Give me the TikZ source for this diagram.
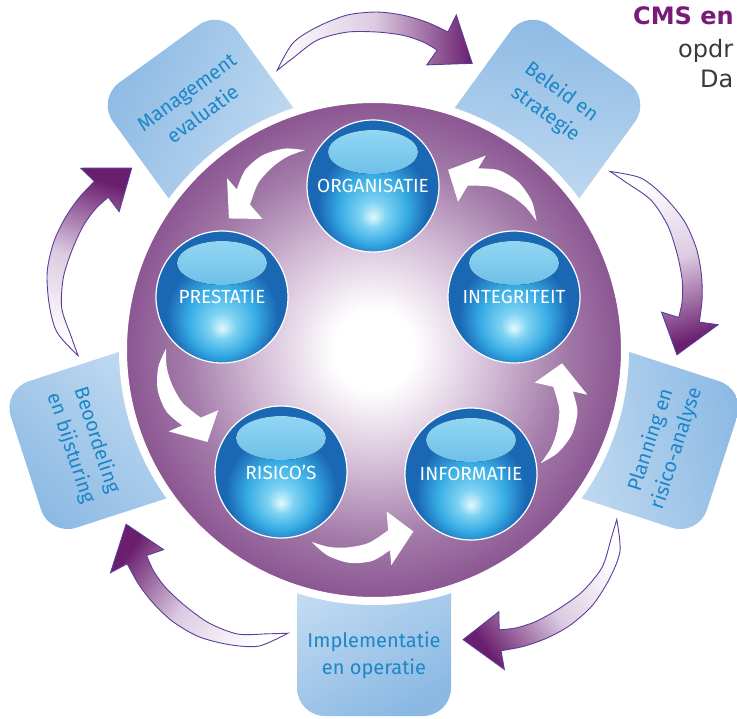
\documentclass[tikz,border=0pt]{standalone}
\usepackage{fontspec}
\setmainfont{Fira Sans}
\newfontfamily\cmsfont{DejaVu Sans}
\usepackage{xcolor}
\usepackage{tikz}

\definecolor{boxblue}{HTML}{1B87C9}
\definecolor{boxlight}{HTML}{C8DEF2}
\definecolor{boxdark}{HTML}{8BB9E4}
\definecolor{arrowline}{HTML}{5C3D99}
\definecolor{arrowhead}{HTML}{6A1E6E}
\definecolor{arrowmid}{HTML}{DCCBE2}
\definecolor{discedge}{HTML}{8A5491}
\definecolor{discdeep}{HTML}{A27AA8}
\definecolor{discmid}{HTML}{D2BAD5}
\definecolor{ballglow}{HTML}{E2F8FD}
\definecolor{ballsoft}{HTML}{7ED3F2}
\definecolor{ballmid}{HTML}{36ABE4}
\definecolor{balldeep}{HTML}{1A67B4}
\definecolor{ballshine}{HTML}{9ADCF6}
\definecolor{cmspurple}{HTML}{7A1A78}
\definecolor{cmsgray}{HTML}{3A3A3A}

\pgfdeclareradialshading{discglow}{\pgfpoint{0bp}{0bp}}{color(0bp)=(white); color(4bp)=(white); color(12bp)=(discmid); color(19bp)=(discdeep); color(25bp)=(discedge); color(50bp)=(discedge)}
\pgfdeclareradialshading{glossball}{\pgfpoint{0bp}{-12bp}}{color(0bp)=(ballglow); color(5bp)=(ballsoft); color(13bp)=(ballmid); color(21bp)=(balldeep); color(26bp)=(balldeep); color(50bp)=(balldeep)}

\tikzset{
  cyclebox/.style={top color=boxlight, bottom color=boxdark},
  boxlabel/.style={text=boxblue, align=center, font=\fontsize{20}{27}\selectfont},
  ball/.style={circle, minimum size=132pt, inner sep=0pt, shading=glossball, draw=white, line width=1.2pt,
    text=white, font=\fontsize{19}{22}\selectfont,
    path picture={\fill[top color=ballshine, bottom color=ballmid!70!balldeep] ([yshift=34pt]path picture bounding box.center) ellipse [x radius=45pt, y radius=22pt];}},
  cyclearrow/.style={draw=arrowline, line width=0.9pt, top color=white, bottom color=arrowhead, middle color=arrowmid},
  innerarrow/.style={fill=white}
}

\begin{document}
\begin{tikzpicture}[x=1pt,y=-1pt]
\useasboundingbox (0,0) rectangle (737,719);
\coordinate (A) at (374,350);
\coordinate (B) at (372,345);

\foreach \ang [evaluate=\ang as \rot using 90-\ang, evaluate=\ang as \tilt using 120-\ang] in {90,18,-54,-126,162}{
  \begin{scope}[shift={(A)}, rotate=\rot]
    \path[cyclebox, shading angle=\tilt] (-77,200) -- (-77,300) [rounded corners=28pt] -- (-77,366) -- (77,366) -- (77,300) [sharp corners] -- (77,200) -- cycle;
  \end{scope}
}

\node[circle, minimum size=502pt, inner sep=0pt, shading=discglow, draw=white, line width=8pt] (disc) at (A) {};

\foreach \k [evaluate=\k as \rot using -72*\k, evaluate=\k as \tilt using 90-72*\k] in {0,...,4}{
  \begin{scope}[shift={(A)}, rotate=\rot]
    \path[cyclearrow, shading angle=\tilt] plot[smooth] coordinates {(-109.1:296) (-104.8:317.5) (-100:328) (-94.6:336) (-89.5:338) (-85:336) (-80.8:332) (-76.9:326.5)}
      -- (-76.2:345) -- (-71.1:303) -- (-79.5:290) -- (-78.1:306.5)
      -- plot[smooth] coordinates {(-78.1:306.5) (-81:312) (-84.7:316) (-89.5:318) (-94.9:319) (-100.4:315) (-105.5:303) (-109.1:296)} -- cycle;
  \end{scope}
}

\foreach \k [evaluate=\k as \rot using 72*\k] in {0,...,4}{
  \begin{scope}[shift={(B)}, rotate=\rot]
    \fill[innerarrow] plot[smooth] coordinates {(-37:206) (-42:215) (-48:219) (-54:216) (-59:206)}
      -- (-59:221) -- (-66.5:191) -- (-59:167) -- (-59:186)
      -- plot[smooth] coordinates {(-59:186) (-53:198) (-47:204) (-42:206.5) (-37:206)} -- cycle;
  \end{scope}
}

\node[ball] (organisatie) at (373,186) {ORGANISATIE};
\node[ball] (integriteit) at (514,297) {INTEGRITEIT};
\node[ball] (informatie) at (471,474) {INFORMATIE};
\node[ball] (risicos) at (281,472) {RISICO’S};
\node[ball] (prestatie) at (222,297) {PRESTATIE};

\begin{scope}[shift={(A)}]
\node[boxlabel, rotate=36] (evaluatie) at (-126:305) {Management\\evaluatie};
\node[boxlabel, rotate=-36] (beleid) at (-54:305) {Beleid en\\strategie};
\node[boxlabel, rotate=72] (planning) at (18:305) {Planning en\\risico-analyse};
\node[boxlabel] (implementatie) at (90:305) {Implementatie\\en operatie};
\node[boxlabel, rotate=-72] (beoordeling) at (162:305) {Beoordeling\\en bijsturing};
\end{scope}

\node[anchor=base west, inner sep=0pt, text=cmspurple, font=\cmsfont\bfseries\fontsize{24}{28}\selectfont] (cmstitle) at (633,25) {CMS en};
\node[anchor=base west, inner sep=0pt, text=cmsgray, font=\cmsfont\fontsize{24}{28}\selectfont] (cmsline) at (678,58) {opdr};
\node[anchor=base west, inner sep=0pt, text=cmsgray, font=\cmsfont\fontsize{24}{28}\selectfont] (cmsda) at (700,88) {Da};
\end{tikzpicture}
\end{document}
